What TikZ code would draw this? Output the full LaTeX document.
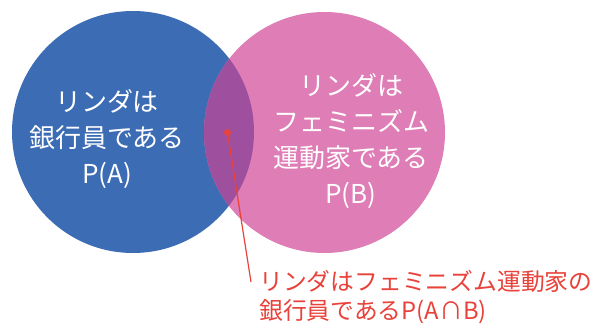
\documentclass[tikz,border=0pt]{standalone}
\usepackage{fontspec}
\setmainfont{Noto Sans CJK JP}
\definecolor{cblue}{HTML}{3C6CB4}
\definecolor{cpink}{HTML}{DE7DB6}
\definecolor{cmix}{HTML}{9E4F9E}
\definecolor{cred}{HTML}{E8423A}
\begin{document}
\begin{tikzpicture}[x=1pt,y=-1pt,
  circtext/.style={text=white,align=center,font=\fontsize{26}{36}\selectfont},
  lbltext/.style={text=cred,align=left,anchor=north west,inner sep=0pt,font=\fontsize{23.8}{28.5}\selectfont}]
\useasboundingbox (0,0) rectangle (595,323);
\fill[cblue] (133,132) circle (121);
\fill[cpink] (324.5,132.5) circle (120.5);
\begin{scope}
  \clip (133,132) circle (121);
  \fill[cmix] (324.5,132.5) circle (120.5);
\end{scope}
\node[circtext] (ta) at (107,139) {リンダは\\銀行員である\\P(A)};
\node[circtext] (tb) at (351,141) {リンダは\\フェミニズム\\運動家である\\P(B)};
\node[circle,fill=cred,inner sep=0pt,minimum size=7] (dot) at (227.5,132.5) {};
\coordinate (lend) at (251,282);
\draw[cred,line width=1.2] (dot.center) -- (lend);
\node[lbltext] (lbl) at (259,270.5) {リンダはフェミニズム運動家の\\銀行員であるP(A∩B)};
\end{tikzpicture}
\end{document}
